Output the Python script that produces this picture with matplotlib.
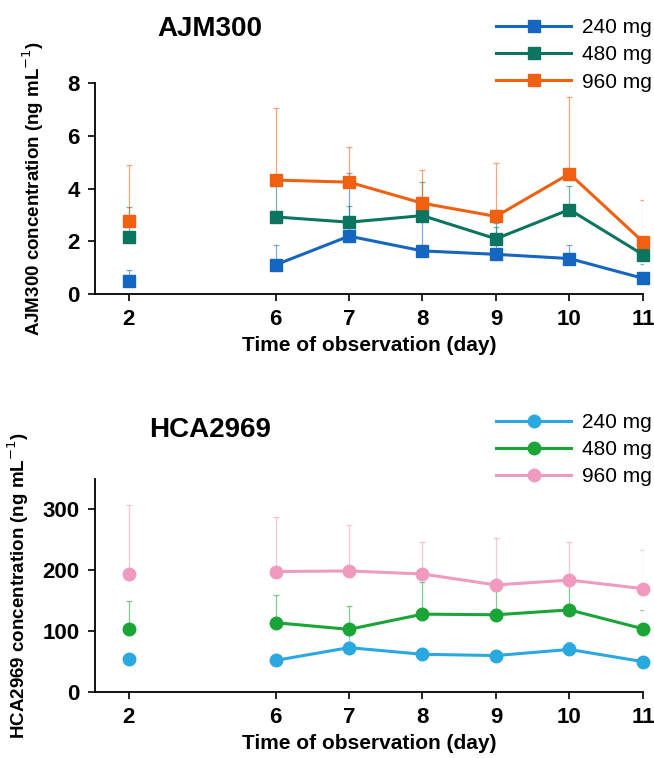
import matplotlib
matplotlib.use('Agg')
import matplotlib.pyplot as plt
import numpy as np

days = [2, 6, 7, 8, 9, 10, 11]
# the axis is compressed between day 2 and day 6
xpos = [0, 2, 3, 4, 5, 6, 7]
doses = ['240 mg', '480 mg', '960 mg']

# AJM300 mean and upper error (top of bar)
ajm_240 = [0.48, 1.11, 2.20, 1.64, 1.51, 1.35, 0.60]
ajm_240_top = [0.92, 1.85, 4.58, 2.90, 2.55, 1.85, 1.13]
ajm_480 = [2.18, 2.93, 2.73, 2.98, 2.10, 3.21, 1.50]
ajm_480_top = [3.31, 4.20, 3.33, 4.27, 2.70, 4.09, 1.75]
ajm_960 = [2.78, 4.33, 4.25, 3.45, 2.95, 4.57, 1.99]
ajm_960_top = [4.92, 7.05, 5.60, 4.70, 4.97, 7.49, 3.56]

# HCA2969 mean and upper error
hca_240 = [55, 52, 73, 62, 60, 70, 50]
hca_240_top = [58, 55, 94, 73, 63, 83, 53]
hca_480 = [104, 114, 103, 128, 127, 135, 104]
hca_480_top = [150, 160, 141, 181, 166, 179, 135]
hca_960 = [194, 198, 199, 194, 176, 184, 170]
hca_960_top = [308, 288, 274, 246, 253, 246, 234]

ajm_colors = ['#1566c0', '#0b7560', '#f06010']
hca_colors = ['#2aa8e0', '#1aa537', '#f09ac0']

plt.rcParams['font.family'] = ['Liberation Sans Narrow', 'Liberation Sans', 'DejaVu Sans']
WIDE = ['Liberation Sans', 'DejaVu Sans']


def panel(ax, series, colors, marker, ms, ymax, yticks, ylabel, title, ty, lx):
    for (vals, tops), c, lab in zip(series, colors, doses):
        vals = np.array(vals, dtype=float)
        tops = np.array(tops, dtype=float)
        ax.errorbar(xpos, vals, yerr=[np.zeros_like(vals), tops - vals],
                    fmt='none', ecolor=c, elinewidth=0.9, capsize=2,
                    capthick=0.9, alpha=0.55, zorder=1)
        ax.plot(xpos[1:], vals[1:], color=c, lw=2.2, zorder=2, clip_on=False)
        ax.plot(xpos, vals, ls='none', marker=marker, ms=ms, color=c,
                zorder=3, clip_on=False)
        ax.plot([], [], color=c, lw=2.2, marker=marker, ms=ms, label=lab)
    ax.set_xlim(-0.46, 7)
    ax.set_ylim(0, ymax)
    ax.set_xticks(xpos)
    ax.set_xticklabels([str(d) for d in days])
    ax.set_yticks(yticks)
    for s in ['top', 'right']:
        ax.spines[s].set_visible(False)
    for s in ['left', 'bottom']:
        ax.spines[s].set_linewidth(1.3)
    ax.tick_params(direction='out', length=5, width=1.2, labelsize=16, pad=6)
    for t in ax.get_xticklabels() + ax.get_yticklabels():
        t.set_fontweight('bold')
    ax.set_xlabel('Time of observation (day)', fontsize=15, fontweight='bold',
                  family=WIDE, labelpad=4)
    ax.set_ylabel(ylabel, fontsize=13.5, fontweight='bold', family=WIDE)
    ax.yaxis.set_label_coords(lx, 0.5)
    ax.text(0.21, ty, title, transform=ax.transAxes, fontsize=20,
            fontweight='bold', family=WIDE, ha='center', va='center')
    ax.legend(loc='upper right', bbox_to_anchor=(1.035, 1.36), frameon=False,
              fontsize=15, handlelength=3.6, labelspacing=0.4,
              handletextpad=0.5, borderpad=0)


fig = plt.figure(figsize=(6.54, 7.58), dpi=100)
ax1 = fig.add_axes([0.145, 0.612, 0.838, 0.278])
ax2 = fig.add_axes([0.145, 0.087, 0.838, 0.281])

panel(ax1, [(ajm_240, ajm_240_top), (ajm_480, ajm_480_top), (ajm_960, ajm_960_top)],
      ajm_colors, 's', 9, 8, [0, 2, 4, 6, 8],
      'AJM300 concentration (ng mL$^{-1}$)', 'AJM300', 1.26, -0.09)
panel(ax2, [(hca_240, hca_240_top), (hca_480, hca_480_top), (hca_960, hca_960_top)],
      hca_colors, 'o', 9, 350, [0, 100, 200, 300],
      'HCA2969 concentration (ng mL$^{-1}$)', 'HCA2969', 1.23, -0.117)

fig.savefig('out.png', dpi=100)
